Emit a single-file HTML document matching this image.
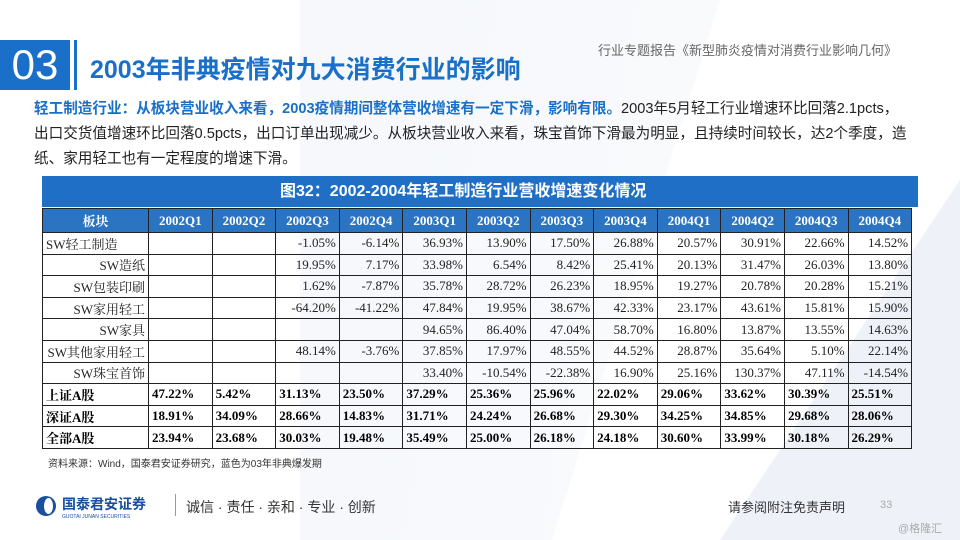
<!DOCTYPE html>
<html><head><meta charset="utf-8">
<style>
*{margin:0;padding:0;box-sizing:border-box}
body{width:960px;height:540px;overflow:hidden;background:#fff;position:relative;font-family:"Liberation Sans","Noto Sans CJK SC",sans-serif}
.bg1{position:absolute;left:300px;top:0;width:420px;height:540px;background:linear-gradient(100deg,#f3f6fa 0%,#f7f9fc 100%);clip-path:polygon(0 0,100% 0,60% 100%,0 100%);opacity:.8}
.bg2{position:absolute;right:0;top:180px;width:300px;height:360px;background:#eef2f8;clip-path:polygon(100% 0,100% 100%,20% 100%);}
#num{position:absolute;left:0;top:40px;width:70px;height:50px;background:#1a6fc9;color:#fff;font-size:42px;line-height:50px;text-align:center}
#vline{position:absolute;left:74px;top:40px;width:3px;height:50px;background:#1a6fc9}
#title{position:absolute;left:90px;top:50px;font-size:25px;font-weight:bold;color:#1a6fc9}
#sub{position:absolute;left:598px;top:40px;font-size:13px;color:#666}
#para{position:absolute;left:34px;top:97px;width:900px;font-size:14.6px;line-height:25px;color:#222;white-space:nowrap}
#para b{color:#1a6fc9}
#band{position:absolute;left:42px;top:176px;width:876px;height:31px;background:#1f6fc6;color:#fff;font-weight:bold;font-size:16px;line-height:31px;padding-left:238px}
table{position:absolute;left:42px;top:208px;border-collapse:collapse;font-family:"Liberation Serif","Noto Serif CJK SC",serif;font-size:13px}
td,th{border:1px solid #222;height:21.6px;padding:0 3px;white-space:nowrap;text-align:right;color:#222;font-weight:normal}
th{background:#2b74c2;color:#fff;font-weight:bold;text-align:center;height:24px}
tr.bold td{font-weight:bold;text-align:left;color:#000}
#src{position:absolute;left:48px;top:455px;font-size:10px;color:#333}
#logo{position:absolute;left:36px;top:496px;width:20px;height:20px;border-radius:50%;background:#1a4fa0}
#logo::after{content:"";position:absolute;left:8px;top:2px;width:9px;height:16px;border-radius:50%;background:#fff}
#brand{position:absolute;left:62px;top:494px;color:#1a4fa0;font-weight:bold;font-size:14px}
#brand small{display:block;font-size:5px;font-weight:normal}
#sep{position:absolute;left:175px;top:494px;width:1px;height:22px;background:#999}
#motto{position:absolute;left:186px;top:497px;font-size:14px;color:#333}
#disc{position:absolute;left:728px;top:497px;font-size:13px;color:#333}
#pg{position:absolute;left:880px;top:499px;font-size:11px;color:#aaa}
#wm{position:absolute;left:898px;top:520px;font-size:11px;color:#aaa}
</style></head><body>
<div class="bg1"></div>
<div class="bg2"></div>
<div id="num">03</div>
<div id="vline"></div>
<div id="title">2003年非典疫情对九大消费行业的影响</div>
<div id="sub">行业专题报告《新型肺炎疫情对消费行业影响几何》</div>
<div id="para"><b>轻工制造行业：从板块营业收入来看，2003疫情期间整体营收增速有一定下滑，影响有限。</b>2003年5月轻工行业增速环比回落2.1pcts，<br>出口交货值增速环比回落0.5pcts，出口订单出现减少。从板块营业收入来看，珠宝首饰下滑最为明显，且持续时间较长，达2个季度，造<br>纸、家用轻工也有一定程度的增速下滑。</div>
<div id="band">图32：2002-2004年轻工制造行业营收增速变化情况</div>
<table id="tbl"></table>
<div id="src">资料来源：Wind，国泰君安证券研究，蓝色为03年非典爆发期</div>
<div id="logo"></div>
<div id="brand">国泰君安证券<small>GUOTAI JUNAN SECURITIES</small></div>
<div id="sep"></div>
<div id="motto">诚信 · 责任 · 亲和 · 专业 · 创新</div>
<div id="disc">请参阅附注免责声明</div>
<div id="pg">33</div>
<div id="wm">@格隆汇</div>
<script>
const quarters=["2002Q1","2002Q2","2002Q3","2002Q4","2003Q1","2003Q2","2003Q3","2003Q4","2004Q1","2004Q2","2004Q3","2004Q4"];
const sectors=["SW轻工制造","SW造纸","SW包装印刷","SW家用轻工","SW家具","SW其他家用轻工","SW珠宝首饰","上证A股","深证A股","全部A股"];
const values=[
["","","-1.05%","-6.14%","36.93%","13.90%","17.50%","26.88%","20.57%","30.91%","22.66%","14.52%"],
["","","19.95%","7.17%","33.98%","6.54%","8.42%","25.41%","20.13%","31.47%","26.03%","13.80%"],
["","","1.62%","-7.87%","35.78%","28.72%","26.23%","18.95%","19.27%","20.78%","20.28%","15.21%"],
["","","-64.20%","-41.22%","47.84%","19.95%","38.67%","42.33%","23.17%","43.61%","15.81%","15.90%"],
["","","","","94.65%","86.40%","47.04%","58.70%","16.80%","13.87%","13.55%","14.63%"],
["","","48.14%","-3.76%","37.85%","17.97%","48.55%","44.52%","28.87%","35.64%","5.10%","22.14%"],
["","","","","33.40%","-10.54%","-22.38%","16.90%","25.16%","130.37%","47.11%","-14.54%"],
["47.22%","5.42%","31.13%","23.50%","37.29%","25.36%","25.96%","22.02%","29.06%","33.62%","30.39%","25.51%"],
["18.91%","34.09%","28.66%","14.83%","31.71%","24.24%","26.68%","29.30%","34.25%","34.85%","29.68%","28.06%"],
["23.94%","23.68%","30.03%","19.48%","35.49%","25.00%","26.18%","24.18%","30.60%","33.99%","30.18%","26.29%"]];
const tbl=document.getElementById('tbl');
let hr=document.createElement('tr');
["板块"].concat(quarters).forEach((q,i)=>{const th=document.createElement('th');th.textContent=q;th.style.width=(i==0?106:63.6)+'px';


hr.appendChild(th);});
tbl.appendChild(hr);
sectors.forEach((s,r)=>{const tr=document.createElement('tr');if(r>=7)tr.className='bold';


const c0=document.createElement('td');c0.textContent=s;if(r==0)c0.style.textAlign='left';


tr.appendChild(c0);
values[r].forEach(v=>{const td=document.createElement('td');td.textContent=v;


tr.appendChild(td);});
tbl.appendChild(tr);});
</script>
</body></html>
